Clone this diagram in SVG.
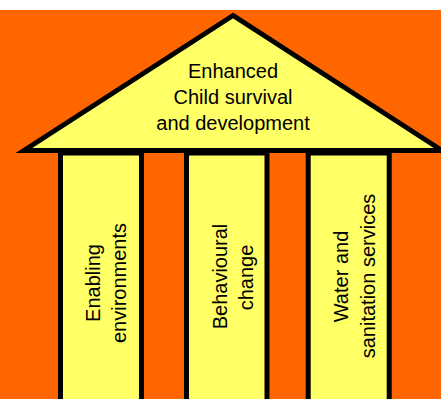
<svg xmlns="http://www.w3.org/2000/svg" width="441" height="399" viewBox="0 0 441 399">
<style>
.t{font-family:"Liberation Sans",Arial,sans-serif;font-size:20px;fill:#000;text-anchor:middle}
.col{fill:#FFFF66;stroke:#000;stroke-width:5}
</style>
<rect x="0" y="0" width="441" height="399" fill="#FFFFFF"/>
<rect x="0" y="10" width="441" height="389" fill="#FF6600"/>
<g id="roof">
<polygon points="233,15.5 24,150.5 442,150.5" fill="#FFFF66" stroke="#000" stroke-width="5"/>
<text class="t" x="233" y="77.5">Enhanced</text>
<text class="t" x="233" y="104">Child survival</text>
<text class="t" x="233" y="130">and development</text>
</g>
<g id="pillar1">
<rect class="col" x="60.5" y="153" width="81" height="260"/>
<text class="t" transform="rotate(-90)" x="-283" y="99.5">Enabling</text>
<text class="t" transform="rotate(-90)" x="-283" y="126">environments</text>
</g>
<g id="pillar2">
<rect class="col" x="186.5" y="153" width="80.5" height="260"/>
<text class="t" transform="rotate(-90)" x="-276.5" y="226.5">Behavioural</text>
<text class="t" transform="rotate(-90)" x="-277.5" y="253">change</text>
</g>
<g id="pillar3">
<rect class="col" x="308.2" y="153" width="81" height="260"/>
<text class="t" transform="rotate(-90)" x="-276.5" y="348.3">Water and</text>
<text class="t" transform="rotate(-90)" x="-276" y="375">sanitation services</text>
</g>
<g id="connectors"></g>
</svg>
